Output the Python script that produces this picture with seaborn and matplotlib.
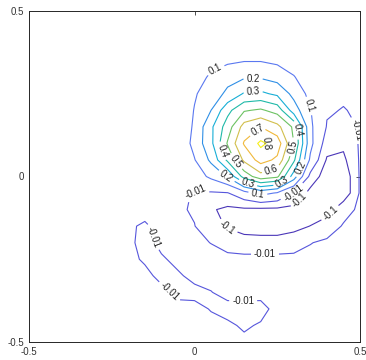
import numpy as np
import matplotlib
matplotlib.use("Agg")
import matplotlib.pyplot as plt
import seaborn as sns

# ---------------- data ----------------
x_coords = [-0.50, -0.45, -0.40, -0.35, -0.30, -0.25, -0.20, -0.15, -0.10, -0.05, 0.00,
            0.05, 0.10, 0.15, 0.20, 0.25, 0.30, 0.35, 0.40, 0.45, 0.50]
y_coords = list(x_coords)

# field values, one row per y value (bottom to top), columns follow x_coords
z_y_m050 = [0, 0, 0, 0, 0, 0, 0, 0, 0, 0, 0, 0, -0.002, -0.004, -0.003, 0, 0, 0, 0, 0, 0]
z_y_m045 = [0, 0, 0, 0, 0, 0, 0, 0, 0, 0, 0, 0, -0.005, -0.014, -0.007, 0, 0, 0, 0, 0, 0]
z_y_m040 = [0, 0, 0, 0, 0, 0, 0, 0, 0, 0, 0, -0.012, -0.02, -0.02, -0.02, 0, 0, 0, 0, 0, 0]
z_y_m035 = [0, 0, 0, 0, 0, 0, 0, 0, 0, -0.018, -0.02, -0.011, 0, 0, 0, 0, 0, 0, 0, 0, 0]
z_y_m030 = [0, 0, 0, 0, 0, 0, 0, 0, -0.02, -0.015, 0, 0, 0, 0, 0, 0, 0, 0, 0, 0, 0]
z_y_m025 = [0, 0, 0, 0, 0, 0, 0, -0.015, -0.015, 0, 0, 0.005, 0.01, 0.012, 0.012, 0.012, 0.01, 0.005, 0, 0, 0]
z_y_m020 = [0, 0, 0, 0, 0, 0, 0, -0.025, 0, 0, 0, -0.011, -0.04, -0.06, -0.06, -0.06, -0.045, -0.012, 0, 0, 0]
z_y_m015 = [0, 0, 0, 0, 0, 0, -0.006, -0.014, 0, 0, -0.008, -0.06, -0.11, -0.14, -0.15, -0.15, -0.13, -0.098, -0.04, -0.005, 0]
z_y_m010 = [0, 0, 0, 0, 0, 0, 0, 0, 0, 0, -0.018, -0.09, -0.12, -0.115, -0.12, -0.12, -0.13, -0.16, -0.15, -0.03, 0]
z_y_m005 = [0, 0, 0, 0, 0, 0, 0, 0, 0, 0, -0.013, -0.02, -0.015, 0.06, 0.135, 0.09, -0.012, -0.13, -0.17, -0.17, 0]
z_y_p000 = [0, 0, 0, 0, 0, 0, 0, 0, 0, 0, 0.05, 0.12, 0.21, 0.44, 0.56, 0.52, 0.25, -0.04, -0.15, -0.17, 0]
z_y_p005 = [0, 0, 0, 0, 0, 0, 0, 0, 0, 0, 0.095, 0.22, 0.42, 0.62, 0.74, 0.68, 0.42, 0.08, -0.11, -0.12, 0]
z_y_p010 = [0, 0, 0, 0, 0, 0, 0, 0, 0, 0.02, 0.13, 0.275, 0.51, 0.71, 0.82, 0.757, 0.5, 0.13, -0.06, -0.08, 0]
z_y_p015 = [0, 0, 0, 0, 0, 0, 0, 0, 0, 0.02, 0.115, 0.28, 0.45, 0.64, 0.70, 0.63, 0.48, 0.12, -0.015, -0.05, 0]
z_y_p020 = [0, 0, 0, 0, 0, 0, 0, 0, 0, 0.015, 0.105, 0.2, 0.37, 0.49, 0.515, 0.46, 0.25, 0.105, -0.003, -0.013, 0]
z_y_p025 = [0, 0, 0, 0, 0, 0, 0, 0, 0, 0.03, 0.09, 0.15, 0.22, 0.31, 0.32, 0.28, 0.17, 0.07, 0.02, 0, 0]
z_y_p030 = [0, 0, 0, 0, 0, 0, 0, 0, 0, 0.02, 0.045, 0.12, 0.17, 0.19, 0.19, 0.16, 0.105, 0.05, 0.015, 0, 0]
z_y_p035 = [0, 0, 0, 0, 0, 0, 0, 0, 0, 0, 0.02, 0.06, 0.08, 0.095, 0.095, 0.08, 0.06, 0.025, 0, 0, 0]
z_y_p040 = [0, 0, 0, 0, 0, 0, 0, 0, 0, 0, 0, 0.02, 0.03, 0.04, 0.04, 0.03, 0.02, 0, 0, 0, 0]
z_y_p045 = [0, 0, 0, 0, 0, 0, 0, 0, 0, 0, 0, 0, 0.01, 0.01, 0.01, 0.01, 0, 0, 0, 0, 0]
z_y_p050 = [0] * 21

contour_levels = [-0.1, -0.01, 0.1, 0.2, 0.3, 0.4, 0.5, 0.6, 0.7, 0.8]
tick_values = [-0.5, 0, 0.5]
tick_labels = ["-0.5", "0", "0.5"]

# label anchor spots (where the reference shows each contour label)
label_spots = {
    0.1: [(0.068, 0.313), (0.355, 0.216), (0.189, -0.062)],
    0.2: [(0.177, 0.295), (0.098, 0.005), (0.319, 0.026)],
    0.3: [(0.177, 0.258), (0.162, -0.017), (0.267, -0.020)],
    0.4: [(0.107, 0.086), (0.298, 0.140)],
    0.5: [(0.137, 0.056), (0.298, 0.089)],
    0.6: [(0.234, 0.014)],
    0.7: [(0.189, 0.143)],
    0.8: [(0.222, 0.095)],
    -0.01: [(0.002, -0.032), (0.298, -0.050), (0.485, 0.140), (0.213, -0.231),
            (-0.134, -0.186), (-0.080, -0.352), (0.147, -0.373)],
    -0.1: [(0.325, -0.077), (0.098, -0.156), (0.409, -0.110)],
}

# parula-like line colours, one per contour level (lowest to highest)
level_colors = ["#4a36b8", "#5656dc", "#5a78f0", "#2f8fe6", "#17aed6",
                "#1fb9a8", "#6cc262", "#d2bf4c", "#f0b83a", "#f6ee18"]

# ---------------- plot ----------------
sns.set_style("white")
plt.rcParams['font.family'] = ['Liberation Sans', 'DejaVu Sans']

Z = np.array([z_y_m050, z_y_m045, z_y_m040, z_y_m035, z_y_m030, z_y_m025, z_y_m020,
              z_y_m015, z_y_m010, z_y_m005, z_y_p000, z_y_p005, z_y_p010, z_y_p015,
              z_y_p020, z_y_p025, z_y_p030, z_y_p035, z_y_p040, z_y_p045, z_y_p050], dtype=float)
X, Y = np.meshgrid(x_coords, y_coords)

fig = plt.figure(figsize=(3.66, 3.60), dpi=100)
ax = fig.add_axes([29 / 366, 18 / 360, 331 / 366, 331 / 360])

palette = sns.color_palette(level_colors)

for lev, col in zip(contour_levels, palette):
    cs = ax.contour(X, Y, Z, levels=[lev], colors=[col], linewidths=0.8,
                    linestyles='solid')
    ax.clabel(cs, manual=label_spots[lev], inline=(lev != 0.8), inline_spacing=3,
              fontsize=7, colors='#222222', fmt=lambda v: f"{v:g}")

ax.set_xlim(-0.5, 0.5)
ax.set_ylim(-0.5, 0.5)
ax.set_xticks(tick_values)
ax.set_xticklabels(tick_labels)
ax.set_yticks(tick_values)
ax.set_yticklabels(tick_labels)
ax.tick_params(direction='in', length=3, width=0.6, top=True, right=True,
               labelsize=7, colors='#333333', pad=3.5)
for sp in ax.spines.values():
    sp.set_visible(True)
    sp.set_linewidth(0.7)
    sp.set_color('#262626')

fig.savefig("out.png", dpi=100)
